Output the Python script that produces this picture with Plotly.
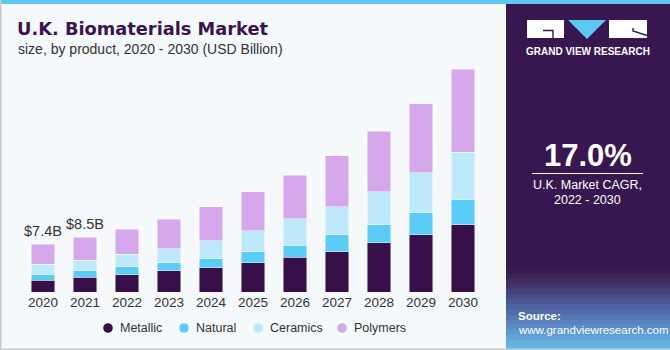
import plotly.graph_objects as go

years = ["2020", "2021", "2022", "2023", "2024", "2025", "2026", "2027", "2028", "2029", "2030"]
metallic = [1.85, 2.28, 2.68, 3.30, 3.77, 4.54, 5.38, 6.25, 7.60, 8.84, 10.39]
natural = [0.92, 1.00, 1.24, 1.24, 1.40, 1.71, 1.86, 2.59, 2.79, 3.41, 3.98]
ceramics = [1.54, 1.62, 1.97, 2.17, 2.74, 3.21, 4.08, 4.34, 5.16, 6.25, 7.29]
polymers = [3.09, 3.60, 3.83, 4.56, 5.32, 6.09, 6.82, 7.95, 9.36, 10.65, 12.87]
series_names = ["Metallic", "Natural", "Ceramics", "Polymers"]
series_colors = ["#37104A", "#5BCBF7", "#BDE9FA", "#D5A8EC"]
label_years = ["2020", "2021"]
label_texts = ["$7.4B", "$8.5B"]

W, H = 670, 350
L, R, T, B = 22, 186, 34, 58
PW, PH = W - L - R, H - T - B
FONT = "Liberation Sans, Arial, sans-serif"


def fx(px):
    return (px - L) / PW


def fy(py):
    return (H - B - py) / PH


fig = go.Figure()
all_series = [metallic, natural, ceramics, polymers]
for name, vals, col in zip(series_names, all_series, series_colors):
    fig.add_bar(x=years, y=vals, name=name, showlegend=False,
                marker=dict(color=col, line=dict(color="rgba(255,255,255,0.55)", width=0.8)))

totals = [sum(s[i] for s in all_series) for i in range(len(years))]

shapes = []


def rect(x0, y0, x1, y1, color, layer="above"):
    shapes.append(dict(type="rect", xref="paper", yref="paper", x0=fx(x0), x1=fx(x1),
                       y0=fy(y1), y1=fy(y0), fillcolor=color, line=dict(width=0), layer=layer))


def path(pts, color=None, line_color=None, width=0, closed=False):
    d = "M " + " L ".join(f"{fx(a):.5f},{fy(b):.5f}" for a, b in pts)
    if closed:
        d += " Z"
    s = dict(type="path", xref="paper", yref="paper", path=d, layer="above",
             line=dict(width=width, color=line_color or "rgba(0,0,0,0)"))
    if color:
        s["fillcolor"] = color
    shapes.append(s)


# right panel
rect(506, 0, 670, 350, "#381650")
grad = ["#3a1a50", "#3d2256", "#402b62", "#42356e", "#45407a", "#494b86",
        "#4c5692", "#4f619e", "#526caa", "#5577b4", "#5882be", "#5b8dc8",
        "#5e98d0", "#61a3d8", "#64aede", "#67b6e3"]
y_start, y_end = 268, 350
step = (y_end - y_start) / len(grad)
for i, c in enumerate(grad):
    rect(506, y_start + i * step, 670, y_start + (i + 1) * step + 0.6, c)
# top strip and borders
rect(0, 0, 670, 4, "#5DC7EE")
rect(0, 0, 1.5, 350, "#C9C9C9")
rect(0, 348.5, 670, 350, "#C9C9C9")
# logo
rect(527, 20, 564, 38, "#FFFFFF")
path([(543, 30.5), (553, 30.5), (553, 38)], line_color="#381650", width=1.4)
path([(568, 20), (606, 20), (587, 39)], color="#5BC8F0", closed=True)
rect(609, 20, 647, 38, "#FFFFFF")
path([(633, 28), (633, 31), (647, 35.5)], line_color="#381650", width=1.4)
# CAGR underline
path([(532, 173.5), (643, 173.5)], line_color="#FFFFFF", width=1)

ann = []


def text(px, py, s, size, color, bold=False, xanchor="left", family=FONT):
    ann.append(dict(xref="paper", yref="paper", x=fx(px), y=fy(py), text=s, showarrow=False,
                    xanchor=xanchor, yanchor="middle",
                    font=dict(size=size, color=color, family=family,
                              weight="bold" if bold else "normal")))


text(15, 29, "U.K. Biomaterials Market", 17.8, "#3A1450", bold=True,
     family="DejaVu Sans, sans-serif")
text(16, 49, "size, by product, 2020 - 2030 (USD Billion)", 14, "#333333")
text(587.5, 51.5, "GRAND VIEW RESEARCH", 10, "#FFFFFF", bold=True, xanchor="center")
text(587.5, 155, "17.0%", 31, "#FFFFFF", bold=True, xanchor="center")
text(587.5, 185, "U.K. Market CAGR,", 12.5, "#FFFFFF", xanchor="center")
text(587.5, 200, "2022 - 2030", 12.5, "#FFFFFF", xanchor="center")
text(516, 316, "Source:", 11.5, "#FFFFFF", bold=True)
text(516, 330, "www.grandviewresearch.com", 11.5, "#FFFFFF")

# legend (drawn manually to match the compact spacing)
legend_x = [108, 184, 258, 342]
for lx, name, col in zip(legend_x, series_names, series_colors):
    shapes.append(dict(type="circle", xref="paper", yref="paper",
                       x0=fx(lx - 4.8), x1=fx(lx + 4.8), y0=fy(328 + 4.8), y1=fy(328 - 4.8),
                       fillcolor=col, line=dict(width=0), layer="above"))
    text(lx + 10, 328, name, 12.5, "#333333")

# data labels
for y, s in zip(label_years, label_texts):
    i = years.index(y)
    ann.append(dict(x=i, y=totals[i], xref="x", yref="y", text=s, showarrow=False,
                    yanchor="bottom", yshift=3,
                    font=dict(size=14.5, color="#333333", family=FONT)))

fig.update_layout(
    width=W, height=H,
    margin=dict(l=L, r=R, t=T, b=B, pad=0),
    paper_bgcolor="#F5F9FC", plot_bgcolor="#F5F9FC",
    barmode="stack", bargap=0.43, showlegend=False,
    font=dict(family=FONT, color="#333333"),
    xaxis=dict(type="category", range=[-0.5, 10.5], showgrid=False, zeroline=False,
               showline=False, ticks="", tickfont=dict(size=13.5, color="#333333")),
    yaxis=dict(range=[0, 40], visible=False),
    shapes=shapes, annotations=ann,
)

fig.write_html("out.html")
